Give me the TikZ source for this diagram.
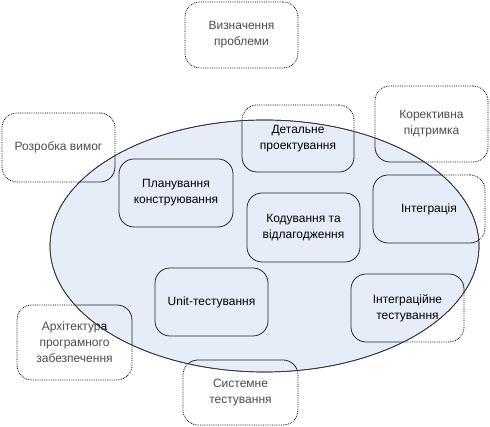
\documentclass[tikz,border=0pt]{standalone}
\usepackage{fontspec}
\setmainfont{Liberation Sans}
\definecolor{ellfill}{RGB}{231,237,248}
\tikzset{
  x=1pt,y=1pt,
  boxout/.style={draw=black, densely dotted, line width=0.8pt, rounded corners=15pt, align=center, text=black!70,
    font=\fontsize{12}{16}\selectfont, inner sep=0pt},
  boxin/.style={draw=black!85, solid, line width=0.8pt, rounded corners=15pt, align=center, text=black,
    font=\fontsize{12}{16}\selectfont, inner sep=0pt},
  cloud/.style={draw=black!80, line width=0.7pt, fill=ellfill}
}
\newcommand{\bx}[7]{\node[#1, minimum width=#4, minimum height=#5] (#2) at (#3) {#6};}
\newcommand{\allboxes}[2]{%
  \bx{#1}{vyzn#2}{241.5,392}{113}{66}{Визначення\\проблеми}{}
  \bx{#1}{rozr#2}{58.5,279.5}{113}{69}{Розробка вимог}{}
  \bx{#1}{det#2}{298,288.5}{112}{67}{Детальне\\проектування}{}
  \bx{#1}{kor#2}{431.5,303}{113}{76}{Корективна\\підтримка}{}
  \bx{#1}{int#2}{429,218}{112}{68}{Інтеграція}{}
  \bx{#1}{plan#2}{176,234}{114}{68}{Планування\\конструювання}{}
  \bx{#1}{kod#2}{303.5,199.5}{113}{69}{Кодування та\\відлагодження}{}
  \bx{#1}{unit#2}{211.5,125}{113}{68}{Unit-тестування}{}
  \bx{#1}{intt#2}{407.5,119}{113}{68}{Інтеграційне\\тестування}{}
  \bx{#1}{arch#2}{74.5,84.5}{115}{75}{Архітектура\\програмного\\забезпечення}{}
  \bx{#1}{sys#2}{240.5,34.5}{115}{65}{Системне\\тестування}{}
}
\begin{document}
\begin{tikzpicture}
\useasboundingbox (0,0) rectangle (490,427);
\fill[white] (0,0) rectangle (490,427);
\allboxes{boxout}{}
\path[cloud] (264.5,181) ellipse [x radius=214.5, y radius=126];
\begin{scope}
  \clip (264.5,181) ellipse [x radius=214.5, y radius=126];
  \allboxes{boxin}{in}
\end{scope}
\draw[black!80, line width=0.7pt] (264.5,181) ellipse [x radius=214.5, y radius=126];
\end{tikzpicture}
\end{document}
